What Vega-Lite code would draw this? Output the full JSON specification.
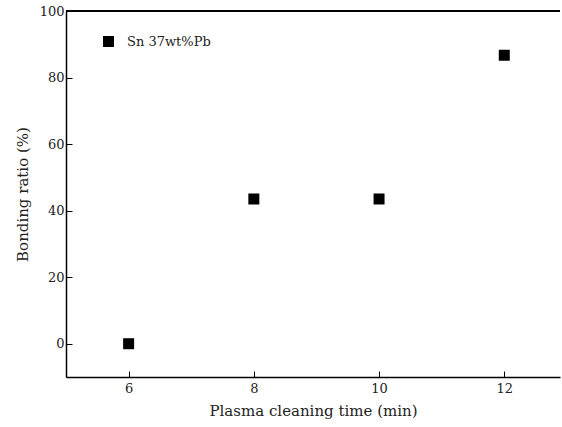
{
  "$schema": "https://vega.github.io/schema/vega-lite/v6.json",
  "width": 494,
  "height": 366,
  "padding": {"left": 15, "top": 5, "right": 0, "bottom": 5},
  "background": "white",
  "config": {
    "font": "DejaVu Serif",
    "view": {"stroke": null},
    "axis": {
      "domainColor": "black",
      "domainWidth": 1.5,
      "tickColor": "black",
      "tickSize": -6,
      "labelColor": "#222",
      "labelFontSize": 13,
      "titleFontSize": 15,
      "titleFontWeight": "normal",
      "titleColor": "#222",
      "grid": false
    }
  },
  "data": {
    "values": [
      {"time": 6, "ratio": 0, "series": "Sn 37wt%Pb"},
      {"time": 8, "ratio": 43.5, "series": "Sn 37wt%Pb"},
      {"time": 10, "ratio": 43.5, "series": "Sn 37wt%Pb"},
      {"time": 12, "ratio": 86.7, "series": "Sn 37wt%Pb"}
    ]
  },
  "encoding": {
    "y": {
      "field": "ratio",
      "type": "quantitative",
      "scale": {"domain": [-10, 100], "nice": false, "zero": false},
      "axis": {"values": [0, 20, 40, 60, 80, 100], "title": "Bonding ratio (%)", "labelPadding": 8, "titlePadding": 9}
    }
  },
  "layer": [
    {
      "mark": {"type": "rule", "color": "black", "strokeWidth": 1.5},
      "encoding": {"y": {"datum": 100}}
    },
    {
      "mark": {"type": "point", "shape": "square", "filled": true, "size": 121, "opacity": 1},
      "encoding": {
        "x": {
          "field": "time",
          "type": "quantitative",
          "scale": {"domain": [5, 12.89], "nice": false, "zero": false},
          "axis": {"values": [6, 8, 10, 12], "title": "Plasma cleaning time (min)", "labelPadding": 11, "titlePadding": 8}
        },
        "color": {
          "field": "series",
          "type": "nominal",
          "scale": {"range": ["black"]},
          "legend": {
            "title": null,
            "orient": "none",
            "legendX": 36,
            "legendY": 24,
            "symbolType": "square",
            "symbolSize": 121,
            "symbolStrokeWidth": 0,
            "labelFontSize": 13,
            "labelColor": "#222",
            "labelOffset": 12
          }
        }
      }
    }
  ]
}
